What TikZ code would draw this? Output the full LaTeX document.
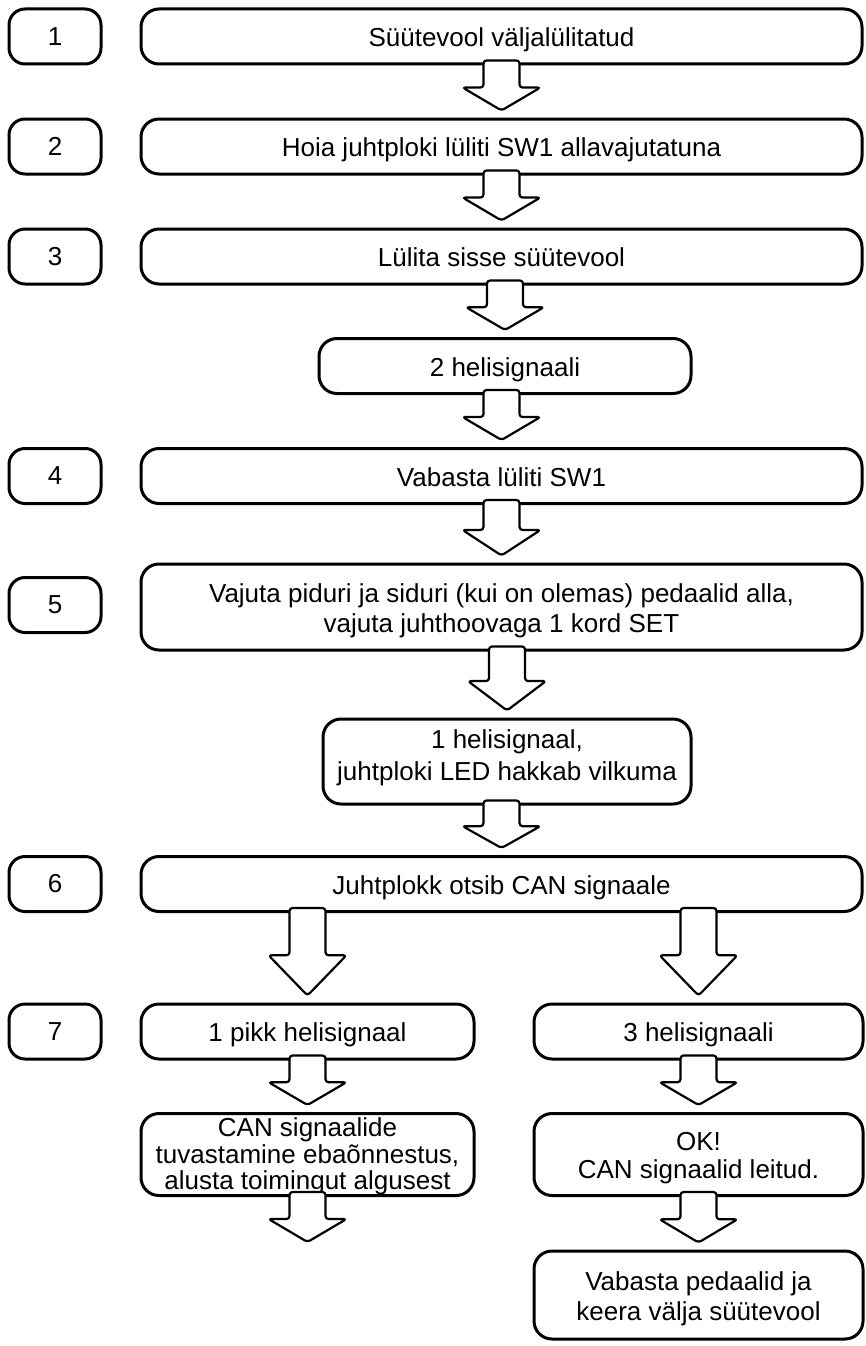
\documentclass[tikz,border=0pt]{standalone}
\usepackage{fontspec}
\setmainfont{Liberation Sans}
\usetikzlibrary{calc,positioning}

\tikzset{
  box/.style={draw, line width=3pt, rounded corners=18pt, inner sep=0pt,
    minimum height=55pt, font=\fontsize{26}{30}\selectfont},
  numbox/.style={box, minimum width=92pt, rounded corners=16pt},
  widebox/.style={box, minimum width=721pt},
  tightbox/.style={box, font=\fontsize{26}{26}\selectfont},
  blockarr/.style={draw, fill=white, line width=2.2pt, rounded corners=3pt, line join=round}
}
% centred lines, set a little lower than the middle of the box
\newcommand{\steptext}[2][4pt]{\raisebox{-#1}[\height][\depth]{\begin{tabular}{@{}c@{}}#2\end{tabular}}}
% block arrow from the bottom of a node down to a tip point
\newcommand{\blockarrow}[2]{%
  \draw[blockarr] ($(#2 |- #1.south)+(-18,5)$) -- ($($(#2 |- #1.south)+(0,5)$)!0.54!($(#2)+(0,7)$)+(-18,0)$)
    -- ($($(#2 |- #1.south)+(0,5)$)!0.54!($(#2)+(0,7)$)+(-39,0)$) -- ($(#2)+(0,7)$)
    -- ($($(#2 |- #1.south)+(0,5)$)!0.54!($(#2)+(0,7)$)+(39,0)$)
    -- ($($(#2 |- #1.south)+(0,5)$)!0.54!($(#2)+(0,7)$)+(18,0)$)
    -- ($(#2 |- #1.south)+(18,5)$) -- cycle;}

\begin{document}
\begin{tikzpicture}[x=1pt, y=1pt]
	\useasboundingbox (0,0) rectangle (865,-1346);

	% step numbers
	\node[numbox] (n1) at (55,-36.5) {1};
	\node[numbox] (n2) at (55,-146.5) {2};
	\node[numbox] (n3) at (55,-256.5) {3};
	\node[numbox] (n4) at (55,-476) {4};
	\node[numbox] (n5) at (55,-605) {5};
	\node[numbox] (n6) at (55,-884) {6};
	\node[numbox] (n7) at (55,-1031.5) {7};

	% main column
	\node[widebox] (s1) at (501.5,-36.5) {\steptext{Süütevool väljalülitatud}};
	\node[widebox] (s2) at (501.5,-146.5) {\steptext{Hoia juhtploki lüliti SW1 allavajutatuna}};
	\node[widebox] (s3) at (501.5,-256.5) {\steptext{Lülita sisse süütevool}};
	\node[box, minimum width=372pt] (beep2) at (505,-366) {\steptext{2 helisignaali}};
	\node[widebox] (s4) at (501.5,-476) {\steptext{Vabasta lüliti SW1}};
	\node[widebox, minimum height=86pt] (s5) at (501.5,-607)
		{\steptext{Vajuta piduri ja siduri (kui on olemas) pedaalid alla,\\vajuta juhthoovaga 1 kord SET}};
	\node[box, minimum width=368pt, minimum height=85pt, font=\fontsize{26}{32}\selectfont] (beep1) at (507,-761.5)
		{\steptext[-3pt]{1 helisignaal,\\juhtploki LED hakkab vilkuma}};
	\node[widebox] (s6) at (501.5,-884) {\steptext{Juhtplokk otsib CAN signaale}};

	% two branches
	\node[box, minimum width=333pt] (longbeep) at (307.5,-1031.5) {\steptext{1 pikk helisignaal}};
	\node[box, minimum width=329pt] (beep3) at (698.5,-1031.5) {\steptext{3 helisignaali}};
	\node[tightbox, minimum width=333pt, minimum height=82pt] (fail) at (307.5,-1154.5)
		{\steptext[3pt]{CAN signaalide\\tuvastamine ebaõnnestus,\\alusta toimingut algusest}};
	\node[tightbox, minimum width=329pt, minimum height=82pt, font=\fontsize{26}{28}\selectfont] (ok) at (698.5,-1154.5)
		{\steptext{OK!\\CAN signaalid leitud.}};
	\node[box, minimum width=329pt, minimum height=88pt] (done) at (698.5,-1295)
		{\steptext{Vabasta pedaalid ja\\keera välja süütevool}};
	\coordinate (failend) at ($(fail.south)+(0,-52)$);

	\blockarrow{s1}{s2.north}
	\blockarrow{s2}{s3.north}
	\blockarrow{s3}{beep2.north}
	\blockarrow{beep2}{s4.north}
	\blockarrow{s4}{s5.north}
	\blockarrow{s5}{beep1.north}
	\blockarrow{beep1}{s6.north}
	\blockarrow{s6}{longbeep.north}
	\blockarrow{s6}{beep3.north}
	\blockarrow{longbeep}{fail.north}
	\blockarrow{beep3}{ok.north}
	\blockarrow{ok}{done.north}
	\blockarrow{fail}{failend}
\end{tikzpicture}
\end{document}
